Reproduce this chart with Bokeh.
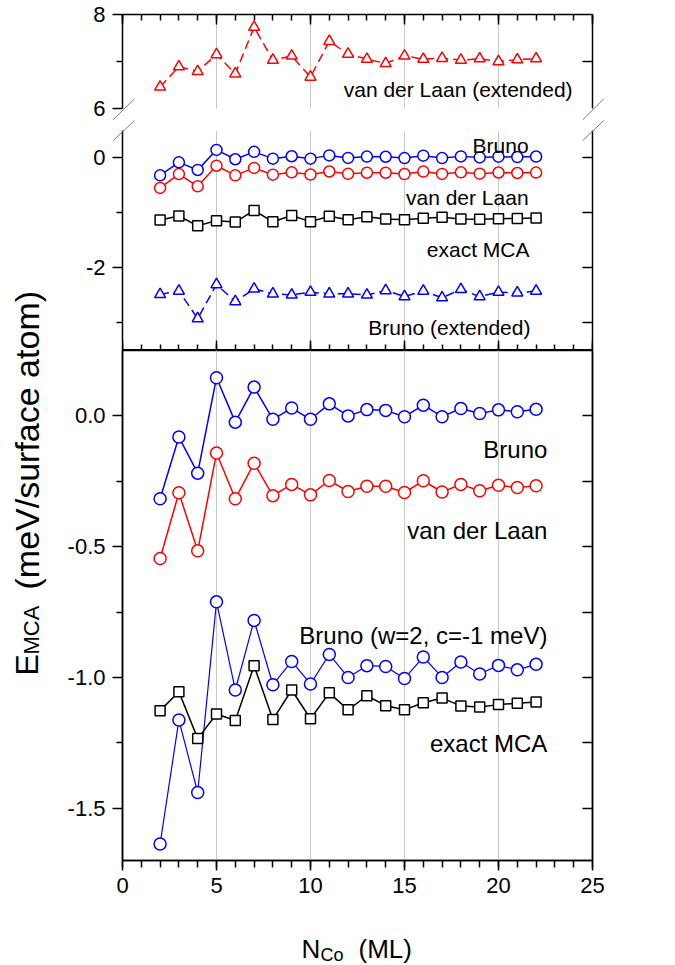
from math import pi
from bokeh.plotting import figure
from bokeh.layouts import row, column
from bokeh.models import (LinearAxis, FixedTicker, NumeralTickFormatter,
                          CustomJSTickFormatter, Range1d, Label)
from bokeh.core.properties import value
from bokeh.embed import file_html
from bokeh.resources import INLINE

# ---------------- data ----------------
n_co = list(range(2, 23))
bruno = [-0.317, -0.081, -0.219, 0.146, -0.024, 0.110, -0.013, 0.030, -0.013, 0.046, 0.000,
         0.024, 0.021, -0.003, 0.041, -0.003, 0.028, 0.009, 0.023, 0.016, 0.025]
van_der_laan = [-0.545, -0.294, -0.516, -0.142, -0.317, -0.181, -0.305, -0.262, -0.302, -0.247,
                -0.289, -0.269, -0.269, -0.293, -0.248, -0.291, -0.262, -0.286, -0.265, -0.274, -0.267]
bruno_w2 = [-1.637, -1.163, -1.440, -0.711, -1.048, -0.782, -1.028, -0.939, -1.025, -0.912, -1.000,
            -0.955, -0.958, -1.004, -0.922, -1.000, -0.941, -0.987, -0.954, -0.971, -0.950]
exact_mca = [-1.127, -1.055, -1.234, -1.140, -1.165, -0.955, -1.161, -1.048, -1.158, -1.059, -1.124,
             -1.070, -1.108, -1.124, -1.097, -1.079, -1.109, -1.113, -1.104, -1.099, -1.094]
bruno_ext = [-2.48, -2.42, -2.92, -2.30, -2.61, -2.38, -2.47, -2.49, -2.44, -2.47, -2.47,
             -2.49, -2.41, -2.52, -2.42, -2.54, -2.39, -2.52, -2.44, -2.45, -2.42]
vdl_ext = [6.46, 6.89, 6.79, 7.15, 6.74, 7.73, 7.03, 7.12, 6.67, 7.43, 7.16,
           7.05, 6.96, 7.12, 7.05, 7.07, 7.03, 7.06, 7.00, 7.04, 7.06]

x_major = [0, 5, 10, 15, 20, 25]
x_minor = list(range(0, 26))
x_grid = [5, 10, 15, 20]

top_hi_major, top_hi_minor = [6, 8], [7]
top_lo_major, top_lo_minor = [-2, 0], [-3, -1]
bot_major, bot_minor = [-1.5, -1.0, -0.5, 0.0], [-1.25, -0.75, -0.25]

FONT = "Liberation Sans"
BLUE, RED, BLACK = "#0000ff", "#ff0000", "#000000"
GRID = "#c8c8c8"
BREAK = "#7a7a7a"
TICK_FS = "22px"
BL, BR = 62, 83          # borders of the column of panels (frames aligned)


def base_fig(height, xr, yr, bt, bb):
    p = figure(width=615, height=height, x_range=xr, y_range=yr,
               x_axis_location=None, y_axis_location=None, toolbar_location=None,
               output_backend="svg", title=None,
               min_border_left=BL, min_border_right=BR, min_border_top=bt, min_border_bottom=bb,
               background_fill_color="white", border_fill_color="white")
    p.outline_line_color = None
    p.xgrid.visible = False
    p.ygrid.visible = False
    return p


def axis(ticks, minor, bounds="auto", fixed=None, tin=0, tout=0, mtin=0, mtout=0, fmt=None, lw=1.5):
    ax = LinearAxis(ticker=FixedTicker(ticks=ticks, minor_ticks=minor), bounds=bounds,
                    axis_line_color=BLACK, axis_line_width=lw,
                    major_tick_line_color=BLACK, major_tick_line_width=1.5,
                    minor_tick_line_color=BLACK, minor_tick_line_width=1.5,
                    major_tick_in=tin, major_tick_out=tout,
                    minor_tick_in=mtin, minor_tick_out=mtout,
                    major_label_text_font=FONT, major_label_text_font_size=TICK_FS,
                    major_label_text_color=BLACK, major_label_standoff=7)
    if fixed is not None:
        ax.fixed_location = fixed
    if fmt is None:
        ax.formatter = CustomJSTickFormatter(code="return ''")
        ax.major_label_text_font_size = "1px"
        ax.major_label_standoff = 0
    else:
        ax.formatter = NumeralTickFormatter(format=fmt)
    return ax


def series(p, y, color, marker, size, dash="solid", lw=1.5):
    p.line(n_co, y, line_color=color, line_width=lw, line_dash=dash)
    p.scatter(n_co, y, marker=marker, size=size, fill_color="white",
              line_color=color, line_width=1.5)


def annot(p, x, y, text, fs):
    p.text(x=[x], y=[y], text=[text], text_font=value(FONT), text_font_size=fs,
           text_align="right", text_baseline="alphabetic", text_color=BLACK)


# ---------------- top panel, upper section (broken axis) ----------------
A = base_fig(120, Range1d(0, 25), Range1d(5.745, 8.0), 14, 0)
A.segment(x0=x_grid, y0=[6] * 4, x1=x_grid, y1=[8] * 4, line_color=GRID, line_width=1, level="underlay")
A.add_layout(axis(top_hi_major, top_hi_minor, (6, 8), tout=10, mtout=6, fmt="0"), "left")
A.add_layout(axis(top_hi_minor, [], (6, 8), tin=10), "right")
A.add_layout(axis(x_major, x_minor, (0, 25), tin=10, mtin=6), "above")
series(A, vdl_ext, RED, "triangle", 11, dash="9 5")
annot(A, 23.94, 6.40, "van der Laan (extended)", "21px")
# axis-break marks
A.segment(x0=[-0.495, 24.484], y0=[5.760, 5.760], x1=[0.638, 25.601], y1=[6.206, 6.206],
          line_color=BREAK, line_width=1, level="overlay")

# ---------------- top panel, lower section ----------------
B = base_fig(230, Range1d(0, 25), Range1d(-3.5, 0.68), 0, 0)
B.segment(x0=x_grid, y0=[-3.5] * 4, x1=x_grid, y1=[0.49] * 4, line_color=GRID, line_width=1, level="underlay")
B.add_layout(axis(top_lo_major, top_lo_minor, (-3.5, 0.49), tout=10, mtout=6, fmt="0"), "left")
B.add_layout(axis(sorted(top_lo_major + top_lo_minor), [], (-3.5, 0.49), tin=10), "right")
B.add_layout(axis(x_major, x_minor, (0, 25), fixed=-3.5, tin=10, mtin=6, lw=3), "below")
series(B, bruno_ext, BLUE, "triangle", 11, dash="9 5")
series(B, exact_mca, BLACK, "square", 10)
series(B, van_der_laan, RED, "circle", 11)
series(B, bruno, BLUE, "circle", 11)
annot(B, 21.6, 0.218, "Bruno", "21px")
annot(B, 21.6, -0.72, "van der Laan", "21px")
annot(B, 21.65, -1.66, "exact MCA", "21px")
annot(B, 21.7, -3.08, "Bruno (extended)", "21px")
B.segment(x0=[-0.495, 24.484], y0=[0.316, 0.316], x1=[0.638, 25.601], y1=[0.680, 0.680],
          line_color=BREAK, line_width=1, level="overlay")

# ---------------- bottom panel ----------------
C = base_fig(558, Range1d(0, 25), Range1d(-1.7, 0.25), 0, 48)
C.outline_line_color = BLACK
C.outline_line_width = 1.5
C.segment(x0=x_grid, y0=[-1.7] * 4, x1=x_grid, y1=[0.25] * 4, line_color=GRID, line_width=1, level="underlay")
C.add_layout(axis(bot_major, bot_minor, tout=10, mtout=6, fmt="0.0"), "left")
C.add_layout(axis(sorted(bot_major + bot_minor), [], tin=10), "right")
C.add_layout(axis(x_major, x_minor, tout=10, mtout=7, fmt="0"), "below")
series(C, bruno_w2, BLUE, "circle", 12, lw=1.2)
series(C, exact_mca, BLACK, "square", 10)
series(C, van_der_laan, RED, "circle", 12)
series(C, bruno, BLUE, "circle", 12)
annot(C, 22.6, -0.128, "Bruno", "24px")
annot(C, 22.6, -0.439, "van der Laan", "24px")
annot(C, 22.6, -0.840, "Bruno (w=2, c=-1 meV)", "24px")
annot(C, 22.6, -1.251, "exact MCA", "24px")

# ---------------- x axis title (strip under the bottom panel) ----------------
D = base_fig(57, Range1d(0, 25), Range1d(0, 57), 0, 0)
for txt, fs, dx, dy in [("N", "26px", 0, 0), ("Co", "18px", 19, -6), ("(ML)", "26px", 57, 0)]:
    D.add_layout(Label(x=9.52, y=17, text=txt, x_offset=dx, y_offset=dy,
                       text_font=FONT, text_font_size=fs, text_color=BLACK,
                       text_align="left", text_baseline="alphabetic"))

# ---------------- y axis title (own narrow column) ----------------
L = figure(width=60, height=965, x_range=Range1d(0, 60), y_range=Range1d(0, 965),
           x_axis_location=None, y_axis_location=None, toolbar_location=None,
           output_backend="svg", title=None, min_border=0,
           background_fill_color="white", border_fill_color="white")
L.outline_line_color = None
L.xgrid.visible = False
L.ygrid.visible = False
for txt, fs, dx, dy in [("E", "32px", 0, 0), ("MCA", "22px", 5, 21),
                        ("(meV/surface atom)", "34px", 0, 86)]:
    L.add_layout(Label(x=26, y=965 - 675, text=txt, x_offset=dx, y_offset=dy, angle=pi / 2,
                       text_font=FONT, text_font_size=fs, text_color=BLACK,
                       text_align="left", text_baseline="alphabetic"))

layout = row(L, column(A, B, C, D, spacing=0), spacing=0)
open("out.html", "w").write(file_html(layout, INLINE))
